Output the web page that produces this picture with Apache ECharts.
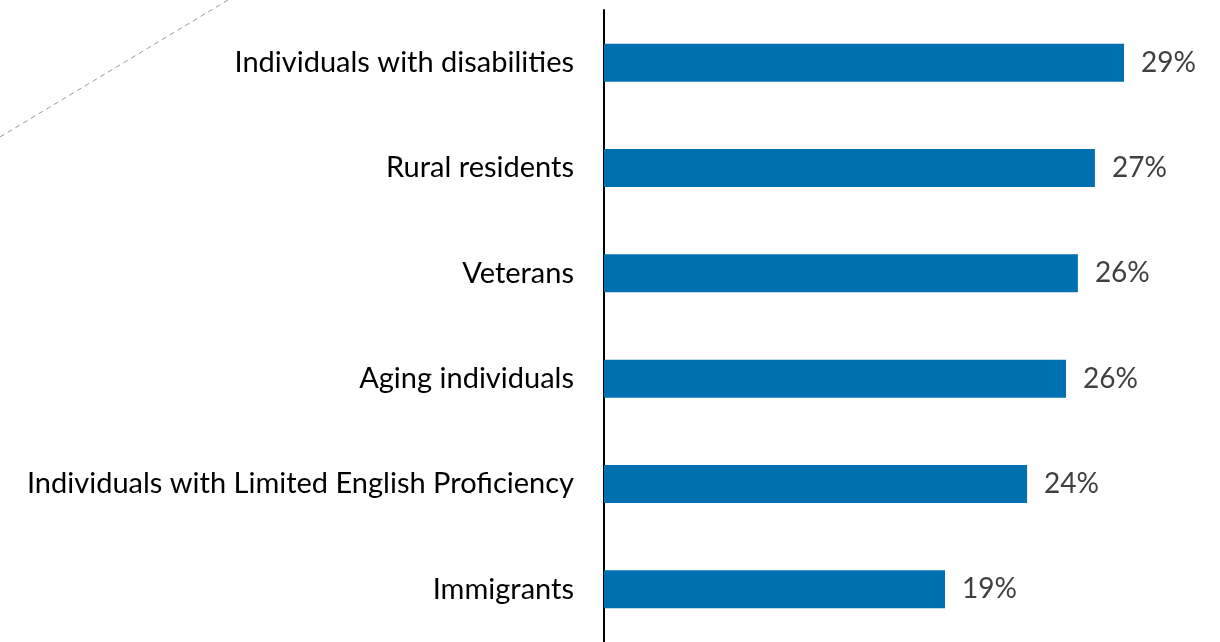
<!DOCTYPE html>
<html>
<head>
<meta charset="utf-8">
<script src="https://cdn.jsdelivr.net/npm/echarts@6/dist/echarts.min.js"></script>
<style>
  html, body { margin: 0; padding: 0; background: #fff; }
  #chart { width: 1220px; height: 642px; }
</style>
</head>
<body>
<div id="chart"></div>
<script>
const categories = [
  'Individuals with disabilities',
  'Rural residents',
  'Veterans',
  'Aging individuals',
  'Individuals with Limited English Proficiency',
  'Immigrants'
];
const values = [28.97, 27.35, 26.4, 25.74, 23.57, 19.0];

const chart = echarts.init(document.getElementById('chart'));

let option = {
  animation: false,
  textStyle: { fontFamily: 'Lato' },
  grid: {
    left: 604,
    top: 10,
    width: 538.5,
    height: 639
  },
  xAxis: {
    type: 'value',
    min: 0,
    max: 30,
    show: false
  },
  yAxis: {
    type: 'category',
    inverse: true,
    data: categories,
    axisTick: { show: false },
    axisLine: {
      lineStyle: { color: '#000', width: 2 }
    },
    axisLabel: {
      margin: 30,
      fontSize: 29,
      color: '#000',
      fontFamily: 'Lato'
    }
  },
  series: [
    {
      type: 'bar',
      data: values,
      barWidth: 38,
      itemStyle: { color: '#0070b0' },
      label: {
        show: true,
        position: 'right',
        distance: 17,
        fontSize: 28,
        color: '#404040',
        fontFamily: 'Lato',
        formatter: p => Math.round(p.value) + '%'
      }
    }
  ],
  graphic: [
    {
      type: 'line',
      shape: { x1: 0, y1: 137, x2: 228, y2: 0 },
      style: { stroke: '#999', lineWidth: 1, lineDash: [5, 4] },
      z: 10
    }
  ]
};

chart.setOption(option);
</script>
</body>
</html>
